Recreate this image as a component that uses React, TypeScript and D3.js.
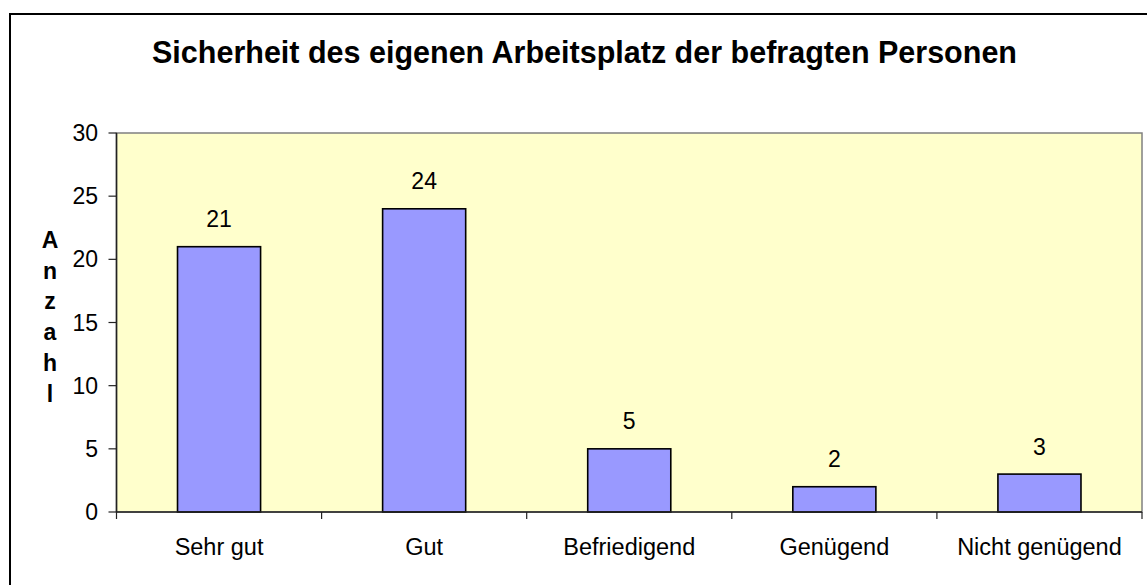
import React from "react";
import * as d3 from "d3";

const categories = ["Sehr gut", "Gut", "Befriedigend", "Genügend", "Nicht genügend"];
const values = [21, 24, 5, 2, 3];
const yTicks = [0, 5, 10, 15, 20, 25, 30];
const title = "Sicherheit des eigenen Arbeitsplatz der befragten Personen";
const yLabel = "Anzahl";

const W = 1147;
const H = 585;
const plot = { left: 116.5, right: 1142, top: 133, bottom: 512 };
const font = "'Liberation Sans', Arial, sans-serif";

export default function App() {
  const x = d3.scaleBand<string>().domain(categories).range([plot.left, plot.right]).padding(0);
  const y = d3.scaleLinear().domain([0, 30]).range([plot.bottom, plot.top]);
  const bw = x.bandwidth() * 0.405;
  const boundaries = categories.map((c) => x(c) as number).concat([plot.right]);

  return (
    <svg width={W} height={H} style={{ position: "absolute", left: 0, top: 0, background: "#fff" }}>
      <rect x={10} y={14} width={1160} height={600} fill="#fff" stroke="#000" strokeWidth={2} />
      <text x={584.5} y={63} textAnchor="middle" fontFamily={font} fontWeight="bold" fontSize={30.5} fill="#000">
        {title}
      </text>
      <rect
        x={plot.left}
        y={plot.top}
        width={plot.right - plot.left}
        height={plot.bottom - plot.top}
        fill="#FFFFCC"
        stroke="#808080"
        strokeWidth={1.5}
      />
      {values.map((v, i) => {
        const cx = (x(categories[i]) as number) + x.bandwidth() / 2;
        return (
          <g key={i}>
            <rect
              x={cx - bw / 2}
              y={y(v)}
              width={bw}
              height={y(0) - y(v)}
              fill="#9999FF"
              stroke="#000"
              strokeWidth={1.6}
            />
            <text x={cx} y={y(v) - 19.5} textAnchor="middle" fontFamily={font} fontSize={23} fill="#000">
              {v}
            </text>
          </g>
        );
      })}
      {/* axes */}
      <line x1={plot.left} x2={plot.left} y1={plot.top} y2={plot.bottom} stroke="#222" strokeWidth={1.5} />
      <line x1={plot.left} x2={plot.right} y1={plot.bottom} y2={plot.bottom} stroke="#222" strokeWidth={1.5} />
      {yTicks.map((t) => (
        <g key={t}>
          <line x1={plot.left - 8} x2={plot.left} y1={y(t)} y2={y(t)} stroke="#222" strokeWidth={1.2} />
          <text x={98} y={y(t) + 8} textAnchor="end" fontFamily={font} fontSize={23} fill="#000">
            {t}
          </text>
        </g>
      ))}
      {boundaries.map((bx, i) => (
        <line key={i} x1={bx} x2={bx} y1={plot.bottom} y2={plot.bottom + 7} stroke="#222" strokeWidth={1.2} />
      ))}
      {categories.map((c) => (
        <text
          key={c}
          x={(x(c) as number) + x.bandwidth() / 2}
          y={555}
          textAnchor="middle"
          fontFamily={font}
          fontSize={23.5}
          fill="#000"
        >
          {c}
        </text>
      ))}
      {yLabel.split("").map((ch, i) => (
        <text
          key={i}
          x={50}
          y={248 + i * 30.7}
          textAnchor="middle"
          fontFamily={font}
          fontWeight="bold"
          fontSize={23}
          fill="#000"
        >
          {ch}
        </text>
      ))}
    </svg>
  );
}
